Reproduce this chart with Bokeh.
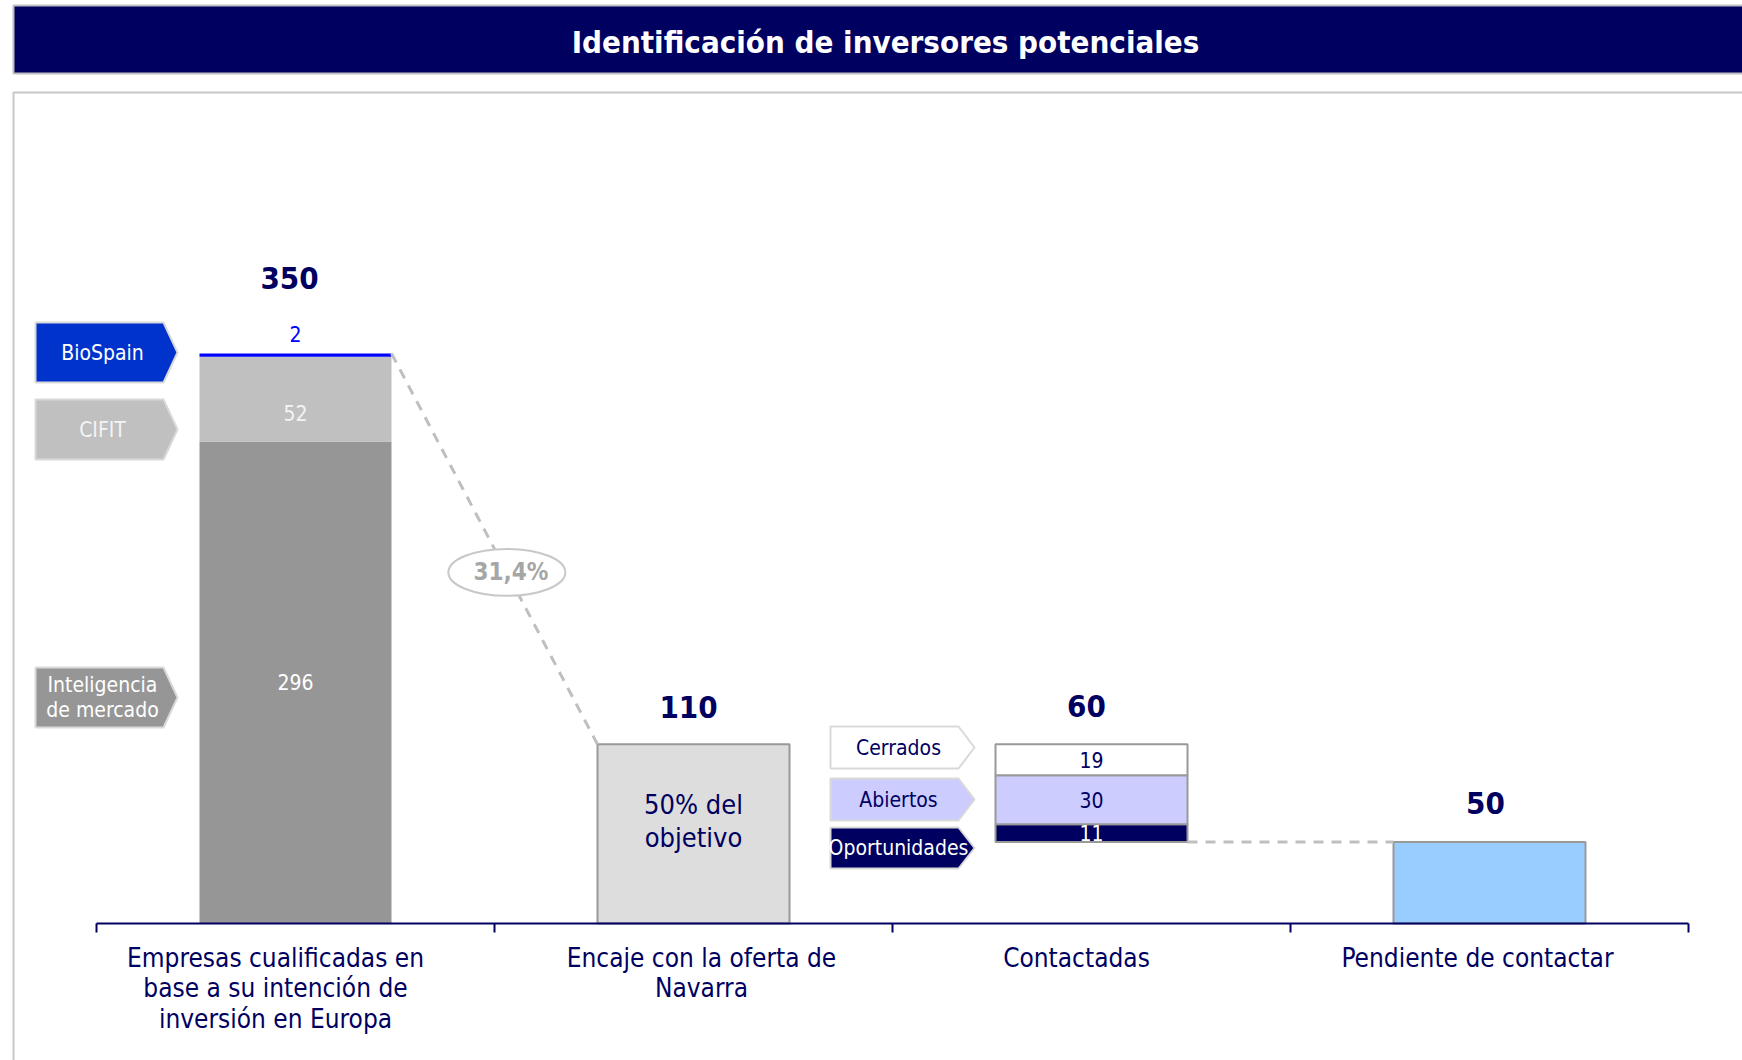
from bokeh.plotting import figure
from bokeh.models import Range1d
from bokeh.core.properties import value
from bokeh.embed import file_html
from bokeh.resources import INLINE

# ---------------- data ----------------
title_text = "Identificación de inversores potenciales"
stages = [
    "Empresas cualificadas en\nbase a su intención de\ninversión en Europa",
    "Encaje con la oferta de\nNavarra",
    "Contactadas",
    "Pendiente de contactar",
]
source_names = ["Inteligencia\nde mercado", "CIFIT", "BioSpain"]
source_values = [296, 52, 2]
encaje_total = 110
encaje_note = "50% del\nobjetivo"
contact_names = ["Oportunidades", "Abiertos", "Cerrados"]
contact_values = [11, 30, 19]
pending_total = 50

# ---------------- layout ----------------
W, H = 1742, 1060
X0, UX = 96, 398.0       # page px of x=0, px per stage
Y0, UY = 923, 1.6286     # page px of y=0, px per company
FONT = "DejaVu Sans Condensed"
NAVY = "#000060"

def PX(xp):
    return (xp - X0) / UX

def PY(yp):
    return (Y0 - yp) / UY

p = figure(width=W, height=H, output_backend="svg", toolbar_location=None,
           x_range=Range1d(PX(0), PX(W)), y_range=Range1d(PY(H), PY(0)),
           x_axis_type=None, y_axis_type=None, min_border=0)
p.grid.visible = False
p.outline_line_color = None
p.background_fill_color = "white"
p.border_fill_color = "white"

# title band and content box
p.quad(left=[PX(13)], right=[PX(1800)], top=[PY(5)], bottom=[PY(73)],
       fill_color=NAVY, line_color="#BFBFBF", line_width=2)
p.text(x=[PX(885)], y=[PY(41)], text=[title_text], text_color="white",
       text_font=value(FONT), text_font_style="bold", text_font_size="31px",
       text_align="center", text_baseline="middle")
p.quad(left=[PX(13)], right=[PX(1800)], top=[PY(92)], bottom=[PY(1100)],
       fill_color=None, line_color="#C8C8C8", line_width=2)

BW = 192 / UX
xc = [i + 0.5 for i in range(len(stages))]

# ---- bar 1: stacked sources
total_sources = sum(source_values)
b1_bottom, b1_top, acc = [], [], 0
for v in source_values:
    b1_bottom.append(acc)
    acc += v
    b1_top.append(acc)
p.vbar(x=[xc[0]] * 3, width=BW, bottom=b1_bottom, top=b1_top,
       fill_color=["#969696", "#C0C0C0", "#0000FF"], line_color=None)
seg_lbl_y = [(b + t) / 2 for b, t in zip(b1_bottom, b1_top)]
p.text(x=[xc[0]] * 3, y=seg_lbl_y, text=[str(v) for v in source_values],
       text_color=["white", "#F4F4F4", "#0000FF"], y_offset=[0, 14, -21],
       text_font=value(FONT), text_font_size="21px",
       text_align="center", text_baseline="middle")

# ---- bar 2: encaje
p.vbar(x=[xc[1]], width=BW, bottom=[0], top=[encaje_total],
       fill_color="#DDDDDD", line_color="#999999", line_width=2)
p.text(x=[xc[1]], y=[encaje_total / 2], text=[encaje_note], y_offset=[-13],
       text_color=NAVY, text_font=value(FONT), text_font_size="27px",
       text_align="center", text_baseline="middle", text_line_height=1.04)

# ---- bar 3: contactadas (floating)
contact_total = sum(contact_values)
base3 = encaje_total - contact_total
b3_bottom, b3_top, acc = [], [], base3
for v in contact_values:
    b3_bottom.append(acc)
    acc += v
    b3_top.append(acc)
p.vbar(x=[xc[2]] * 3, width=BW, bottom=b3_bottom, top=b3_top,
       fill_color=[NAVY, "#CCCCFF", "#FFFFFF"], line_color="#999999", line_width=2)
p.text(x=[xc[2]] * 3, y=[(b + t) / 2 for b, t in zip(b3_bottom, b3_top)],
       text=[str(v) for v in contact_values], text_color=["white", NAVY, NAVY],
       text_font=value(FONT), text_font_size="21px",
       text_align="center", text_baseline="middle")

# ---- bar 4: pendiente
p.vbar(x=[xc[3]], width=BW, bottom=[0], top=[pending_total],
       fill_color="#99CCFF", line_color="#999999", line_width=2)

# ---- totals
tot_vals = [total_sources, encaje_total, contact_total, pending_total]
tot_tops = [total_sources, encaje_total, encaje_total, pending_total]
p.text(x=xc, y=tot_tops, text=[str(v) for v in tot_vals],
       x_offset=[-6, -5, -5, -4], y_offset=[-75, -37, -38, -39],
       text_color=NAVY, text_font=value(FONT), text_font_style="bold",
       text_font_size="31px", text_align="center", text_baseline="middle")

# ---- dashed connectors
cx0 = [xc[0] + BW / 2, xc[2] + BW / 2]
cy0 = [total_sources, base3]
cx1 = [xc[1] - BW / 2, xc[3] - BW / 2]
cy1 = [encaje_total, pending_total]
p.segment(x0=cx0, y0=cy0, x1=cx1, y1=cy1, line_color="#BFBFBF",
          line_width=3, line_dash="10 8")

# conversion bubble
f = 0.56
ex = cx0[0] + f * (cx1[0] - cx0[0])
ey = cy0[0] + f * (cy1[0] - cy0[0])
pct = encaje_total / total_sources * 100
p.ellipse(x=[ex], y=[ey], width=117, height=47, width_units="screen",
          height_units="screen", fill_color="white", line_color="#C8C8C8", line_width=2)
p.text(x=[ex], y=[ey], text=[f"{pct:.1f}%".replace(".", ",")], text_color="#A6A6A6",
       x_offset=[4], text_font=value(FONT), text_font_style="bold", text_font_size="24px",
       text_align="center", text_baseline="middle")

# ---- tags (arrow labels)
def tag_shape(L, R, T, top, bot):
    mid = (top + bot) / 2
    return ([PX(L), PX(R), PX(T), PX(R), PX(L)],
            [PY(top), PY(top), PY(mid), PY(bot), PY(bot)])

tag_boxes_left = [(667, 727), (399, 459), (322, 382)]
tag_boxes_right = [(827, 868), (778, 820), (726, 768)]
xs, ys, fills, tx, ty, tcol, ttext = [], [], [], [], [], [], []
left_fill = ["#969696", "#C0C0C0", "#0033CC"]
left_txt = ["white", "#F4F4F4", "white"]
for name, (t, b), fc, tc in zip(source_names, tag_boxes_left, left_fill, left_txt):
    sx, sy = tag_shape(35, 163, 177, t, b)
    xs.append(sx); ys.append(sy); fills.append(fc)
    tx.append(PX(102)); ty.append(PY((t + b) / 2)); tcol.append(tc); ttext.append(name)
right_fill = [NAVY, "#CCCCFF", "#FFFFFF"]
right_txt = ["white", NAVY, NAVY]
for name, (t, b), fc, tc in zip(contact_names, tag_boxes_right, right_fill, right_txt):
    sx, sy = tag_shape(830, 958, 974, t, b)
    xs.append(sx); ys.append(sy); fills.append(fc)
    tx.append(PX(898)); ty.append(PY((t + b) / 2)); tcol.append(tc); ttext.append(name)
p.patches(xs=xs, ys=ys, fill_color=fills, line_color="#D9D9D9", line_width=2)
p.text(x=tx, y=ty, text=ttext, text_color=tcol, text_font=value(FONT),
       text_font_size="21px", text_align="center", text_baseline="middle",
       text_line_height=1.04)

# ---- baseline axis with boundary ticks
n = len(stages)
p.segment(x0=[0], y0=[0], x1=[n], y1=[0], line_color=NAVY, line_width=2)
p.segment(x0=list(range(n + 1)), y0=[0] * (n + 1), x1=list(range(n + 1)),
          y1=[-9 / UY] * (n + 1), line_color=NAVY, line_width=2)
p.text(x=xc, y=[0] * n, text=stages, x_offset=[-20, 8, -15, -12], y_offset=[19] * n,
       text_color=NAVY, text_font=value(FONT), text_font_size="26px",
       text_align="center", text_baseline="top", text_line_height=1.02)

open("out.html", "w").write(file_html(p, INLINE))
